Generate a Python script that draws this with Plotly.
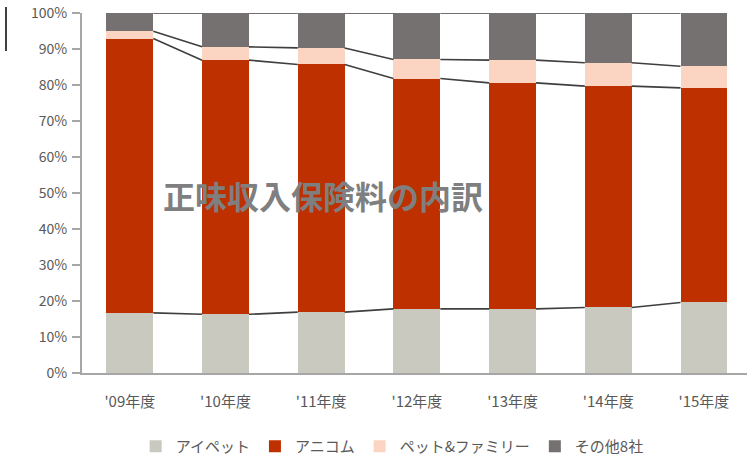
import plotly.graph_objects as go

categories = ["'09年度", "'10年度", "'11年度", "'12年度", "'13年度", "'14年度", "'15年度"]
series_names = ["アイペット", "アニコム", "ペット&ファミリー", "その他8社"]
aipet = [16.7, 16.3, 16.9, 17.8, 17.8, 18.2, 19.6]
anicom = [76.2, 70.6, 68.8, 64.0, 62.8, 61.5, 59.6]
petfamily = [2.0, 3.7, 4.6, 5.3, 6.3, 6.5, 6.0]
others = [5.1, 9.4, 9.7, 12.9, 13.1, 13.8, 14.8]
y_ticks = [0, 10, 20, 30, 40, 50, 60, 70, 80, 90, 100]
title_text = "正味収入保険料の内訳"

colors = ["#c9c9c0", "#bf3000", "#fcd5c2", "#767171"]
series = [aipet, anicom, petfamily, others]
xs = list(range(len(categories)))
bar_w = 0.49

fig = go.Figure()
for name, vals, col in zip(series_names, series, colors):
    fig.add_trace(go.Bar(x=xs, y=vals, name=name, marker=dict(color=col, line=dict(width=0)),
                         width=bar_w))

# series lines connecting cumulative tops between bars
cum = [0.0] * len(categories)
for vals in series:
    cum = [c + v for c, v in zip(cum, vals)]
    lx, ly = [], []
    for i in range(len(categories) - 1):
        lx += [xs[i] + bar_w / 2, xs[i + 1] - bar_w / 2, None]
        ly += [cum[i], cum[i + 1], None]
    fig.add_trace(go.Scatter(x=lx, y=ly, mode="lines", line=dict(color="#3f3f3f", width=1.6),
                             showlegend=False, hoverinfo="skip"))

fig.update_layout(
    barmode="stack",
    width=747, height=457,
    margin=dict(l=82, r=0, t=13, b=84),
    plot_bgcolor="white", paper_bgcolor="white",
    font=dict(family="Noto Sans CJK JP, Noto Sans", color="#595959"),
    showlegend=True,
    legend=dict(orientation="h", xref="container", yref="container", x=0.525, xanchor="center",
                y=0.023, yanchor="middle", font=dict(size=15, color="#595959"),
                traceorder="normal", itemwidth=30, tracegroupgap=0),
    xaxis=dict(range=[-0.5, 6.45], tickmode="array", tickvals=xs, ticktext=categories,
               showline=True, linecolor="#a6a6a6", linewidth=2, ticks="", showgrid=False,
               zeroline=False, tickfont=dict(size=15, color="#595959"), ticklabelstandoff=14),
    yaxis=dict(range=[0, 100], tickmode="array", tickvals=y_ticks,
               ticktext=[f"{v}%" for v in y_ticks], showline=True, linecolor="#a6a6a6",
               linewidth=2, ticks="outside", ticklen=8, tickcolor="#a6a6a6", tickwidth=2,
               showgrid=False, zeroline=False, tickfont=dict(size=14, color="#595959"),
               ticklabelstandoff=2),
    annotations=[dict(text="<b>" + title_text + "</b>", xref="paper", yref="paper",
                      x=(323 - 82) / (747 - 82), y=(373 - 195) / (373 - 13),
                      xanchor="center", yanchor="middle", showarrow=False,
                      font=dict(size=32, color="#7f7f7f", family="Noto Sans CJK JP"))],
    shapes=[dict(type="line", xref="paper", yref="paper",
                 x0=(6 - 82) / 665, x1=(6 - 82) / 665,
                 y0=(373 - 7) / 360, y1=(373 - 51) / 360,
                 line=dict(color="black", width=1.5))],
)

fig.write_html("out.html")
